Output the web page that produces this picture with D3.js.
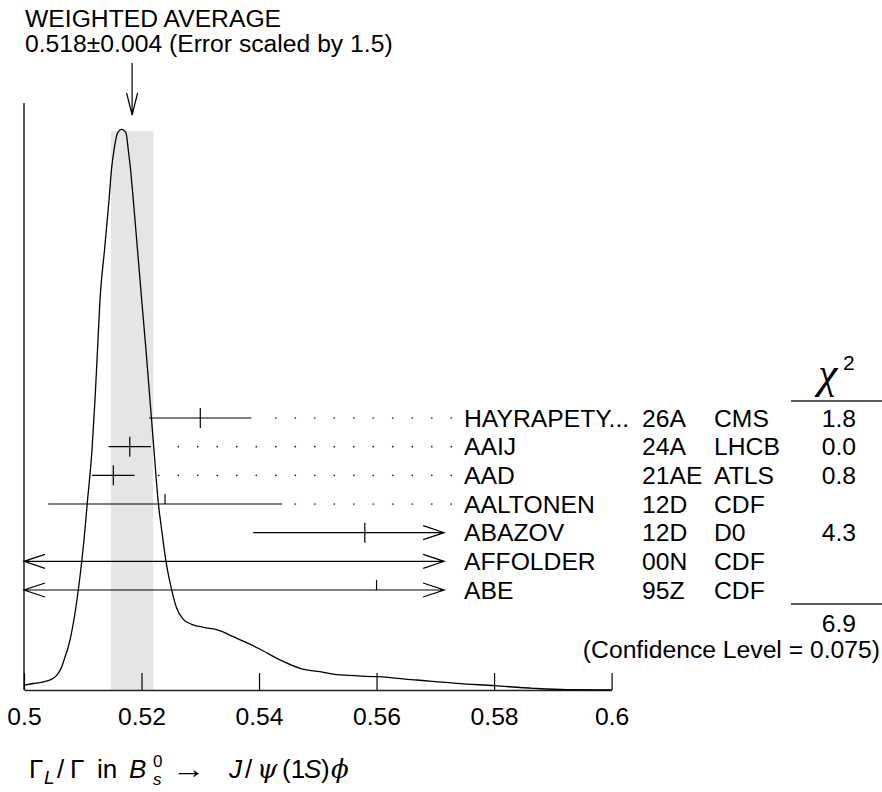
<!DOCTYPE html>
<html>
<head>
<meta charset="utf-8">
<script src="https://cdn.jsdelivr.net/npm/d3@7"></script>
<style>
body{margin:0;background:white}
svg text{font-family:"Liberation Sans", Arial, Helvetica, sans-serif;fill:black}
</style>
</head>
<body>
<svg id="chart" width="882" height="792"></svg>
<script>

let names = ["HAYRAPETY...", "AAIJ", "AAD", "AALTONEN", "ABAZOV", "AFFOLDER", "ABE"]
let years = ["26A", "24A", "21AE", "12D", "12D", "00N", "95Z"]
let collabs = ["CMS", "LHCB", "ATLS", "CDF", "D0", "CDF", "CDF"]
let values = [0.530, 0.518, 0.5152, 0.524, 0.558, 0.61, 0.56]
let errLo = [0.0087, 0.0036, 0.0036, 0.0199, 0.019, 0.14, 0.21]
let errHi = [0.0087, 0.0036, 0.0036, 0.0199, 0.023, 0.14, 0.21]
let inFit = [true, true, true, false, true, false, false]
let chi2 = ["1.8", "0.0", "0.8", "", "4.3", "", ""]

let avg = 0.5184
let avgErr = 0.0036
let chi2Total = "6.9"
let confLevel = "0.075"

let tickValues = [0.5, 0.52, 0.54, 0.56, 0.58, 0.6]

// ideogram: [value, relative height]
let curveX = [0.5, 0.50153, 0.50272, 0.50391, 0.50499, 0.50579, 0.50642, 0.50698, 0.50754, 0.50839,
  0.50924, 0.50982, 0.51021, 0.51077, 0.51157, 0.51208, 0.51251, 0.51293, 0.5137, 0.51447,
  0.51493, 0.51532, 0.51591, 0.51663, 0.51736, 0.51775, 0.51809, 0.5186, 0.51932, 0.52003,
  0.52076, 0.52144, 0.52212, 0.52286, 0.52343, 0.52417, 0.52514, 0.52599, 0.52711, 0.52854,
  0.53051, 0.53307, 0.53562, 0.5379, 0.53987, 0.54357, 0.54697, 0.55037, 0.55378, 0.56007,
  0.56683, 0.57364, 0.58004, 0.58667, 0.59236, 0.6]
let curveH = [0.0086, 0.0116, 0.0130, 0.0161, 0.0209, 0.0294, 0.0416, 0.0589, 0.0772, 0.1190,
  0.1783, 0.2288, 0.2675, 0.3335, 0.4280, 0.5172, 0.6064, 0.6956, 0.7847, 0.8739,
  0.9328, 0.9631, 0.9934, 1.0, 0.9934, 0.9631, 0.9328, 0.8739, 0.7847, 0.6956,
  0.6064, 0.5172, 0.4280, 0.3335, 0.2854, 0.2288, 0.1783, 0.1457, 0.1261, 0.1172,
  0.1118, 0.1070, 0.0951, 0.0844, 0.0744, 0.0535, 0.0387, 0.0326, 0.0268, 0.0237,
  0.0178, 0.0119, 0.0077, 0.0030, 0.0005, 0]

let barMax = 0.5715
let fs = 24.7

let svg = d3.select('#chart')

let x = d3.scaleLinear()
.domain([0.5, 0.6])
.range([24, 611.6])

let yRow = d3.scaleLinear()
.domain([0, 6])
.range([418, 590])

let yCurve = d3.scaleLinear()
.domain([0, 1])
.range([690, 129.3])


// weighted average band
svg.append('rect')
.attr('x', x(avg - avgErr))
.attr('y', 131)
.attr('width', x(avg + avgErr) - x(avg - avgErr))
.attr('height', yCurve(0) - 131)
.attr('fill', '#e5e5e5')


svg.append('text')
.attr('x', 25)
.attr('y', 27)
.style('font-size', fs + 'px')
.text('WEIGHTED AVERAGE')

svg.append('text')
.attr('x', 25)
.attr('y', 52)
.style('font-size', fs + 'px')
.text('0.518\u00b10.004 (Error scaled by 1.5)')

let ax = x(avg)
svg.append('path')
.attr('d', `M${ax},63 L${ax},115 M${ax - 5.5},93 L${ax},115 L${ax + 5.5},93`)
.attr('fill', 'none')
.attr('stroke', 'black')
.attr('stroke-width', 1.2)


// axes
svg.append('line')
.attr('x1', x(0.5))
.attr('x2', x(0.5))
.attr('y1', 103)
.attr('y2', yCurve(0))
.attr('stroke', 'black')
.attr('stroke-width', 1.3)

let axis = svg.append('g')
.attr('transform', `translate(0,${yCurve(0)})`)
.call(d3.axisBottom(x)
  .tickValues(tickValues)
  .tickFormat(d3.format(''))
  .tickSizeInner(-17)
  .tickSizeOuter(0)
  .tickPadding(17))

axis.select('.domain')
.attr('stroke', '#222')
.attr('stroke-width', 1.6)

axis.selectAll('.tick line')
.attr('stroke', 'black')
.attr('stroke-width', 1.2)

axis.selectAll('.tick text')
.style('font-size', fs + 'px')
.style('font-family', '"Liberation Sans", Arial, sans-serif')
.attr('fill', 'black')


// ideogram curve
let curvePts = curveX.map((v, i) => [v, curveH[i]])

svg.append('path')
.datum(curvePts)
.attr('fill', 'none')
.attr('stroke', 'black')
.attr('stroke-width', 1.3)
.attr('d', d3.line()
  .x(d => x(d[0]))
  .y(d => yCurve(d[1]))
  .curve(d3.curveMonotoneX))


// measurements
let rows = svg.append('g')

names.forEach((n, i) => {

let yy = yRow(i)
let lo = values[i] - errLo[i]
let hi = values[i] + errHi[i]
let x1 = x(Math.max(lo, 0.5))
let x2 = x(Math.min(hi, barMax))

let d = `M${x1},${yy} L${x2},${yy}`
if (lo < 0.5) d += ` M${x1 + 21},${yy - 7} L${x1},${yy} L${x1 + 21},${yy + 7}`
if (hi > barMax) d += ` M${x2 - 21},${yy - 7} L${x2},${yy} L${x2 - 21},${yy + 7}`

if (values[i] >= 0.5 && values[i] <= barMax) {
  let cx = x(values[i])
  d += inFit[i] ? ` M${cx},${yy - 10} L${cx},${yy + 10}` : ` M${cx},${yy - 10} L${cx},${yy}`
}

rows.append('path')
.attr('d', d)
.attr('fill', 'none')
.attr('stroke', 'black')
.attr('stroke-width', 1.2)

if (hi <= barMax) {
  for (let dx = 451.3; dx > x2 + 10; dx -= 19.5) {
    rows.append('circle')
    .attr('cx', dx)
    .attr('cy', yy)
    .attr('r', 0.85)
    .attr('fill', '#222')
  }
}

rows.append('text')
.attr('x', 464)
.attr('y', yy + 8.5)
.style('font-size', fs + 'px')
.text(n)

rows.append('text')
.attr('x', 642)
.attr('y', yy + 8.5)
.style('font-size', fs + 'px')
.text(years[i])

rows.append('text')
.attr('x', 714)
.attr('y', yy + 8.5)
.style('font-size', fs + 'px')
.text(collabs[i])

rows.append('text')
.attr('x', 856)
.attr('y', yy + 8.5)
.attr('text-anchor', 'end')
.style('font-size', fs + 'px')
.text(chi2[i])

})


// chi2 column
svg.append('text')
.attr('x', 818)
.attr('y', 388)
.style('font-family', '"Liberation Serif", "Times New Roman", serif')
.style('font-style', 'italic')
.style('font-size', '44px')
.text('\u03c7')

svg.append('text')
.attr('x', 843)
.attr('y', 370)
.style('font-size', '21px')
.text('2')

svg.selectAll('line.chiline')
.data([401, 604])
.enter()
.append('line')
.attr('class', 'chiline')
.attr('x1', 791)
.attr('x2', 882)
.attr('y1', d => d)
.attr('y2', d => d)
.attr('stroke', '#222')
.attr('stroke-width', 1.4)

svg.append('text')
.attr('x', 856)
.attr('y', 632)
.attr('text-anchor', 'end')
.style('font-size', fs + 'px')
.text(chi2Total)

svg.append('text')
.attr('x', 880)
.attr('y', 658)
.attr('text-anchor', 'end')
.style('font-size', fs + 'px')
.text(`(Confidence Level = ${confLevel})`)


// x-axis title
let title = svg.append('text')
.attr('y', 778)
.style('font-size', '26px')

let pieces = [
  {t: '\u0393', x: 29},
  {t: 'L', x: 44, it: true, dy: 6, size: 19},
  {t: '/', x: 57},
  {t: '\u0393', x: 70},
  {t: 'in', x: 97},
  {t: 'B', x: 129, it: true},
  {t: '0', x: 153, dy: -11, size: 17},
  {t: 's', x: 153, it: true, dy: 7, size: 17},
  {t: '\u2192', x: 172, len: 34},
  {t: 'J', x: 229, it: true},
  {t: '/', x: 245},
  {t: '\u03c8', x: 257, it: true, serif: true},
  {t: '(1', x: 282},
  {t: 'S', x: 304, it: true},
  {t: ')', x: 321},
  {t: '\u03d5', x: 331, it: true, serif: true}
]

pieces.forEach(p => {
let ts = title.append('tspan')
.attr('x', p.x)
.attr('y', 778 + (p.dy || 0))
.style('font-size', (p.size || 26) + 'px')
.style('font-style', p.it ? 'italic' : 'normal')
.text(p.t)
if (p.serif) ts.style('font-family', '"DejaVu Serif", serif')
if (p.len) ts.attr('textLength', p.len).attr('lengthAdjust', 'spacingAndGlyphs')
})

</script>
</body>
</html>
